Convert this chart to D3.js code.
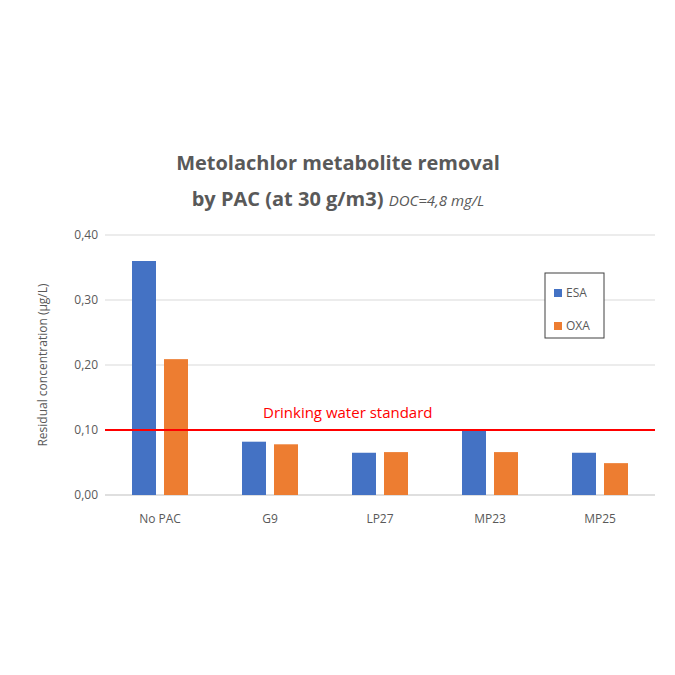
<!DOCTYPE html>
<html><head><meta charset="utf-8">
<script src="https://cdn.jsdelivr.net/npm/d3@7"></script>
<style>body{margin:0;background:#fff}</style>
</head><body><div id="chart"></div>
<script>
const categories = ["No PAC", "G9", "LP27", "MP23", "MP25"];
const esa = [0.36, 0.082, 0.065, 0.10, 0.065];
const oxa = [0.209, 0.078, 0.066, 0.066, 0.049];
const yTicks = [0, 0.1, 0.2, 0.3, 0.4];
const standard = 0.10;

const W = 675, H = 675;
const margin = {left: 105, right: 20, top: 235, bottom: 180};
const svg = d3.select("#chart").append("svg").attr("width", W).attr("height", H)
  .style("font-family", "'Open Sans', sans-serif");

const x = d3.scaleBand().domain(categories).range([margin.left, W - margin.right]);
const y = d3.scaleLinear().domain([0, 0.4]).range([H - margin.bottom, margin.top]);
const fmt = d => d3.format(".2f")(d).replace(".", ",");

// grid
svg.append("g").selectAll("line").data(yTicks).enter().append("line")
  .attr("x1", margin.left).attr("x2", W - margin.right)
  .attr("y1", d => y(d)).attr("y2", d => y(d))
  .attr("stroke", d => d === 0 ? "#bfbfbf" : "#d9d9d9");
svg.append("g").selectAll("text").data(yTicks).enter().append("text")
  .attr("x", margin.left - 7).attr("y", d => y(d) + 4).attr("text-anchor", "end")
  .attr("font-size", 12).attr("fill", "#595959").text(fmt);

const bw = 24, gap = 8;
const series = [{name: "ESA", vals: esa, color: "#4472c4", off: -bw - gap / 2},
                {name: "OXA", vals: oxa, color: "#ed7d31", off: gap / 2}];
series.forEach(s => {
  svg.append("g").selectAll("rect").data(categories).enter().append("rect")
    .attr("x", d => x(d) + x.bandwidth() / 2 + s.off)
    .attr("y", (d, i) => y(s.vals[i]))
    .attr("width", bw)
    .attr("height", (d, i) => y(0) - y(s.vals[i]))
    .attr("fill", s.color);
});

svg.append("g").selectAll("text").data(categories).enter().append("text")
  .attr("x", d => x(d) + x.bandwidth() / 2).attr("y", y(0) + 28)
  .attr("text-anchor", "middle").attr("font-size", 12).attr("fill", "#595959").text(d => d);

// standard line
svg.append("line").attr("x1", margin.left).attr("x2", W - margin.right)
  .attr("y1", y(standard)).attr("y2", y(standard)).attr("stroke", "#ff0000").attr("stroke-width", 2);
svg.append("text").attr("x", 263).attr("y", y(standard) - 12).attr("fill", "#ff0000")
  .attr("font-size", 15).text("Drinking water standard");

// y label
svg.append("text").attr("transform", `translate(47,${(y(0) + y(0.4)) / 2}) rotate(-90)`)
  .attr("text-anchor", "middle").attr("font-size", 12).attr("fill", "#595959")
  .text("Residual concentration (µg/L)");

// title
svg.append("text").attr("x", 338).attr("y", 170).attr("text-anchor", "middle")
  .attr("font-size", 20).attr("font-weight", "bold").attr("fill", "#595959")
  .text("Metolachlor metabolite removal");
const t2 = svg.append("text").attr("x", 338).attr("y", 206).attr("text-anchor", "middle").attr("fill", "#595959");
t2.append("tspan").attr("font-size", 20).attr("font-weight", "bold").text("by PAC (at 30 g/m3) ");
t2.append("tspan").attr("font-size", 15).attr("font-style", "italic").text("DOC=4,8 mg/L");

// legend
const lg = svg.append("g").attr("transform", "translate(545,273)");
lg.append("rect").attr("width", 59).attr("height", 65).attr("fill", "#fff").attr("stroke", "#404040");
series.forEach((s, i) => {
  lg.append("rect").attr("x", 9).attr("y", 16 + i * 33).attr("width", 8).attr("height", 8).attr("fill", s.color);
  lg.append("text").attr("x", 21).attr("y", 24 + i * 33).attr("font-size", 12).attr("fill", "#595959").text(s.name);
});
</script></body></html>
